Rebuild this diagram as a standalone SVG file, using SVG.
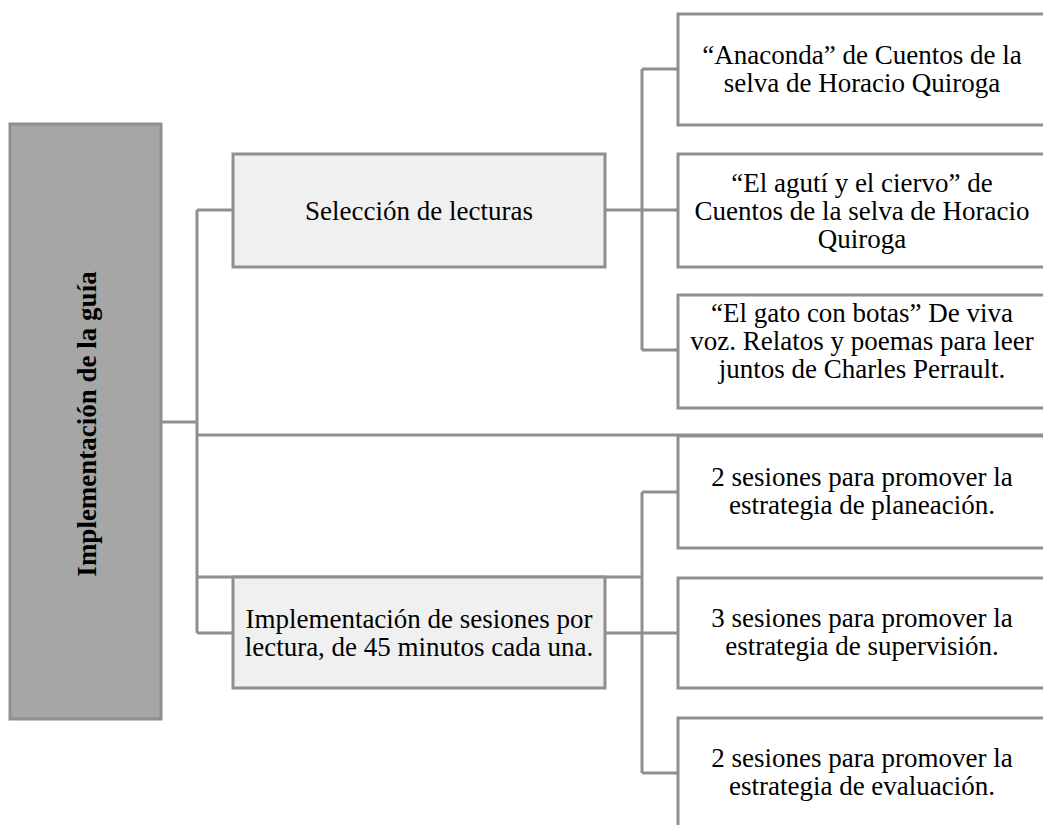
<svg xmlns="http://www.w3.org/2000/svg" width="1043" height="825" viewBox="0 0 1043 825">
<style>
.box{fill:#ffffff;stroke:#8f8f8f;stroke-width:3}
.mid{fill:#f0f0f0;stroke:#8f8f8f;stroke-width:3}
.root{fill:#a6a6a6;stroke:#8f8f8f;stroke-width:3}
.ln{fill:none;stroke:#8f8f8f;stroke-width:3}
text{font-family:"Liberation Serif","Times New Roman",serif;font-size:27px;fill:#000;text-anchor:middle}
.b{font-weight:bold}
</style>
<rect width="1043" height="825" fill="#ffffff"/>
<g id="connectors">
<path class="ln" d="M161 422H197M197 210V633M197 210H233M197 435H1043M197 577H642M197 633H233M605 210H678M642 69V350M642 69H678M642 350H678M605 633H678M642 492V773M642 492H678M642 773H678"/>
</g>
<g id="root">
<rect class="root" x="10" y="124" width="151" height="595"/>
<text class="b" transform="translate(96,424) rotate(-90)">Implementación de la guía</text>
</g>
<g id="seleccion">
<rect class="mid" x="233" y="154" width="372" height="113"/>
<text x="419" y="219.5">Selección de lecturas</text>
</g>
<g id="implementacion">
<rect class="mid" x="233" y="577" width="372" height="111"/>
<text x="419" y="628">Implementación de sesiones por</text>
<text x="419" y="656">lectura, de 45 minutos cada una.</text>
</g>
<g id="anaconda">
<rect class="box" x="678" y="14" width="368" height="111"/>
<text x="862" y="64">“Anaconda” de Cuentos de la</text>
<text x="862" y="92">selva de Horacio Quiroga</text>
</g>
<g id="aguti">
<rect class="box" x="678" y="154" width="368" height="113"/>
<text x="862" y="192">“El agutí y el ciervo” de</text>
<text x="862" y="220">Cuentos de la selva de Horacio</text>
<text x="862" y="248">Quiroga</text>
</g>
<g id="gato">
<rect class="box" x="678" y="295" width="368" height="113"/>
<text x="862" y="322">“El gato con botas” De viva</text>
<text x="862" y="350">voz. Relatos y poemas para leer</text>
<text x="862" y="378">juntos de Charles Perrault.</text>
</g>
<g id="planeacion">
<rect class="box" x="678" y="436" width="368" height="112"/>
<text x="862" y="486">2 sesiones para promover la</text>
<text x="862" y="514">estrategia de planeación.</text>
</g>
<g id="supervision">
<rect class="box" x="678" y="578" width="368" height="110"/>
<text x="862" y="627">3 sesiones para promover la</text>
<text x="862" y="655">estrategia de supervisión.</text>
</g>
<g id="evaluacion">
<rect class="box" x="678" y="718" width="368" height="120"/>
<text x="862" y="767">2 sesiones para promover la</text>
<text x="862" y="795">estrategia de evaluación.</text>
</g>
</svg>
